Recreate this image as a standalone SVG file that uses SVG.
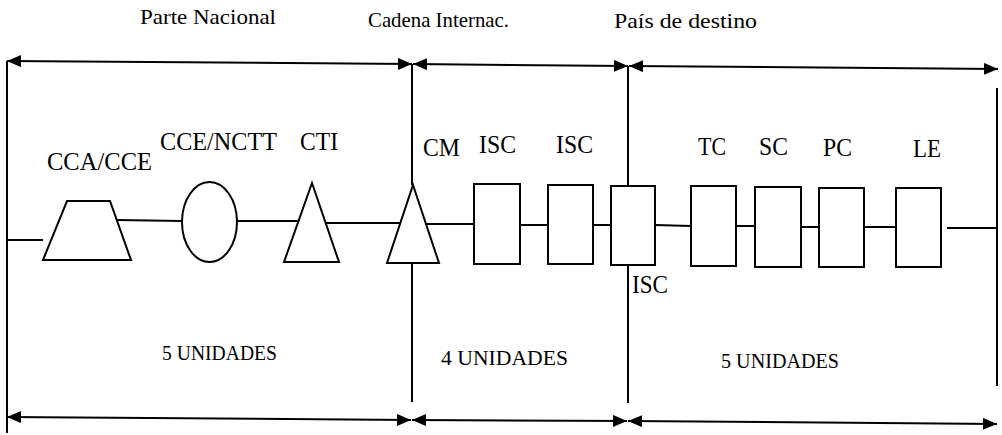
<svg xmlns="http://www.w3.org/2000/svg" width="1002" height="435" viewBox="0 0 1002 435">
<style>
.ln{stroke:#000;stroke-width:2;fill:none}
.sh{stroke:#000;stroke-width:2;fill:#fff}
text{font-family:'Liberation Serif','Times New Roman',Times,serif;fill:#000}
</style>
<defs>
<marker id="ah" viewBox="0 0 14 12" refX="14" refY="6" markerWidth="14" markerHeight="12" markerUnits="userSpaceOnUse" orient="auto-start-reverse">
<path d="M0,0 L14,6 L0,12 z" fill="#000"/>
</marker>
</defs>
<rect width="1002" height="435" fill="#fff"/>
<g id="frame">
<line class="ln" x1="7" y1="61" x2="7" y2="433"/>
<line class="ln" x1="412" y1="64" x2="412" y2="185"/>
<line class="ln" x1="412" y1="263" x2="412" y2="402"/>
<line class="ln" x1="628" y1="66" x2="628" y2="186"/>
<line class="ln" x1="628" y1="265" x2="628" y2="403"/>
<line class="ln" x1="997" y1="88" x2="997" y2="386"/>
</g>
<g id="connectors">
<line class="ln" x1="7" y1="61" x2="412" y2="64" marker-start="url(#ah)" marker-end="url(#ah)"/>
<line class="ln" x1="413" y1="64" x2="628" y2="66" marker-start="url(#ah)" marker-end="url(#ah)"/>
<line class="ln" x1="629" y1="66" x2="998" y2="69" marker-start="url(#ah)" marker-end="url(#ah)"/>
<line class="ln" x1="7" y1="417" x2="411" y2="420" marker-start="url(#ah)" marker-end="url(#ah)"/>
<line class="ln" x1="412" y1="420" x2="627" y2="421" marker-start="url(#ah)" marker-end="url(#ah)"/>
<line class="ln" x1="628" y1="421" x2="997" y2="424" marker-start="url(#ah)" marker-end="url(#ah)"/>
<line class="ln" x1="7" y1="240" x2="43" y2="240"/>
<line class="ln" x1="117" y1="220" x2="182" y2="221"/>
<line class="ln" x1="237" y1="221" x2="299" y2="221"/>
<line class="ln" x1="326" y1="223" x2="400" y2="223"/>
<line class="ln" x1="426" y1="224" x2="474" y2="224"/>
<line class="ln" x1="520" y1="225" x2="548" y2="225"/>
<line class="ln" x1="593" y1="225" x2="611" y2="225"/>
<line class="ln" x1="655" y1="225" x2="691" y2="226"/>
<line class="ln" x1="736" y1="226" x2="755" y2="226"/>
<line class="ln" x1="801" y1="227" x2="819" y2="227"/>
<line class="ln" x1="864" y1="227" x2="896" y2="227"/>
<line class="ln" x1="947" y1="228" x2="997" y2="228"/>
</g>
<g id="headers" font-size="21">
<text x="140" y="24" textLength="136" lengthAdjust="spacingAndGlyphs">Parte Nacional</text>
<text x="368" y="27" textLength="141" lengthAdjust="spacingAndGlyphs">Cadena Internac.</text>
<text x="614" y="28" textLength="143" lengthAdjust="spacingAndGlyphs">País de destino</text>
</g>
<g id="units" font-size="22">
<text x="162" y="360" textLength="115" lengthAdjust="spacingAndGlyphs">5 UNIDADES</text>
<text x="441" y="365" textLength="127" lengthAdjust="spacingAndGlyphs">4 UNIDADES</text>
<text x="721" y="368" textLength="118" lengthAdjust="spacingAndGlyphs">5 UNIDADES</text>
</g>
<g id="cca-cce" font-size="26">
<polygon class="sh" points="67,201 110,201 131,260 43,260"/>
<text x="47" y="170" textLength="105" lengthAdjust="spacingAndGlyphs">CCA/CCE</text>
</g>
<g id="cce-nctt" font-size="26">
<ellipse class="sh" cx="209.5" cy="222" rx="27.5" ry="40"/>
<text x="160" y="150" textLength="117" lengthAdjust="spacingAndGlyphs">CCE/NCTT</text>
</g>
<g id="cti" font-size="26">
<polygon class="sh" points="312,183 339,262 284,262"/>
<text x="300" y="150" textLength="38" lengthAdjust="spacingAndGlyphs">CTI</text>
</g>
<g id="cm" font-size="26">
<polygon class="sh" points="413,185 439,263 387,263"/>
<text x="423" y="156" textLength="37" lengthAdjust="spacingAndGlyphs">CM</text>
</g>
<g id="isc1" font-size="26">
<rect class="sh" x="474" y="184" width="46" height="80"/>
<text x="479" y="153" textLength="37" lengthAdjust="spacingAndGlyphs">ISC</text>
</g>
<g id="isc2" font-size="26">
<rect class="sh" x="548" y="185" width="45" height="79"/>
<text x="556" y="153" textLength="37" lengthAdjust="spacingAndGlyphs">ISC</text>
</g>
<g id="isc3" font-size="26">
<rect class="sh" x="611" y="186" width="44" height="79"/>
<text x="632" y="293" textLength="36" lengthAdjust="spacingAndGlyphs">ISC</text>
</g>
<g id="tc" font-size="26">
<rect class="sh" x="691" y="186" width="45" height="80"/>
<text x="698" y="155" textLength="28" lengthAdjust="spacingAndGlyphs">TC</text>
</g>
<g id="sc" font-size="26">
<rect class="sh" x="755" y="187" width="46" height="80"/>
<text x="759" y="155" textLength="29" lengthAdjust="spacingAndGlyphs">SC</text>
</g>
<g id="pc" font-size="26">
<rect class="sh" x="819" y="188" width="45" height="79"/>
<text x="823" y="156" textLength="29" lengthAdjust="spacingAndGlyphs">PC</text>
</g>
<g id="le" font-size="26">
<rect class="sh" x="896" y="188" width="45" height="79"/>
<text x="913" y="157" textLength="28" lengthAdjust="spacingAndGlyphs">LE</text>
</g>
</svg>
